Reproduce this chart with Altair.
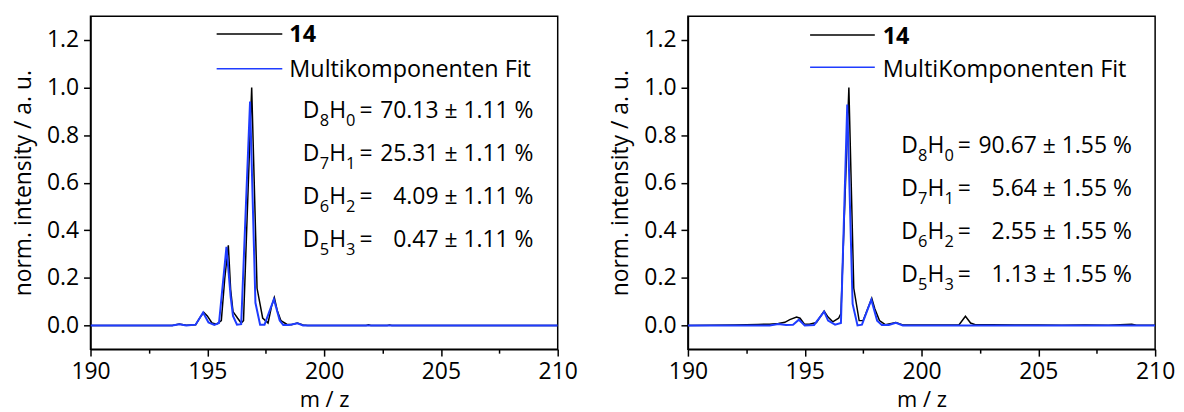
import altair as alt
import pandas as pd

# ---------------- data ----------------
left_meas_mz = [190.0, 193.5, 193.8, 194.1, 194.5, 194.7, 194.85, 195.0, 195.2, 195.4, 195.6, 195.75,
                195.9, 196.0, 196.1, 196.3, 196.45, 196.55, 196.9, 197.13, 197.37, 197.6, 197.75,
                197.87, 198.0, 198.15, 198.4, 198.6, 198.85, 199.1, 199.3, 201.8, 201.9, 202.0,
                202.7, 202.8, 202.9, 210.0]
left_meas_int = [0.0, 0.0, 0.006, 0.001, 0.003, 0.035, 0.055, 0.04, 0.01, 0.005, 0.02, 0.2,
                 0.337, 0.15, 0.058, 0.03, 0.01, 0.02, 1.0, 0.156, 0.031, 0.01, 0.08,
                 0.117, 0.06, 0.02, 0.005, 0.003, 0.01, 0.002, 0.0, 0.0, 0.003, 0.0,
                 0.0, 0.002, 0.0, 0.0]
left_fit_mz = [190.0, 193.5, 193.8, 194.1, 194.5, 194.82, 195.05, 195.3, 195.5, 195.82, 196.0, 196.1,
               196.27, 196.45, 196.83, 197.06, 197.26, 197.45, 197.85, 198.1, 198.25, 198.5, 198.86,
               199.1, 210.0]
left_fit_int = [0.0, 0.0, 0.005, 0.0, 0.003, 0.054, 0.012, 0.002, 0.01, 0.33, 0.12, 0.04,
                0.003, 0.005, 0.941, 0.095, 0.003, 0.003, 0.11, 0.02, 0.002, 0.002, 0.009,
                0.0, 0.0]

right_meas_mz = [190.0, 191.0, 192.0, 193.0, 193.5, 193.87, 194.15, 194.36, 194.65, 194.8, 194.98,
                 195.2, 195.5, 195.83, 196.0, 196.2, 196.45, 196.55, 196.89, 197.1, 197.33, 197.5,
                 197.87, 198.0, 198.2, 198.45, 198.9, 199.2, 200.0, 201.0, 201.6, 201.88, 202.1,
                 202.3, 203.0, 204.0, 205.0, 206.0, 207.0, 208.0, 209.0, 209.2, 210.0]
right_meas_int = [0.0, 0.001, 0.002, 0.004, 0.005, 0.008, 0.013, 0.024, 0.035, 0.03, 0.006,
                  0.005, 0.012, 0.06, 0.035, 0.015, 0.03, 0.05, 1.0, 0.156, 0.02, 0.02,
                  0.114, 0.07, 0.02, 0.003, 0.012, 0.002, 0.002, 0.002, 0.002, 0.038, 0.01,
                  0.003, 0.003, 0.002, 0.002, 0.001, 0.002, 0.001, 0.005, 0.001, 0.001]
right_fit_mz = [190.0, 193.5, 193.87, 194.2, 194.5, 194.75, 195.0, 195.4, 195.83, 196.0, 196.3,
                196.55, 196.82, 197.05, 197.26, 197.45, 197.85, 198.1, 198.3, 198.6, 198.9, 199.2,
                210.0]
right_fit_int = [0.0, 0.0, 0.006, 0.002, 0.003, 0.024, 0.0, 0.002, 0.058, 0.02, 0.003,
                 0.01, 0.928, 0.09, 0.0, 0.003, 0.108, 0.02, 0.002, 0.002, 0.011, 0.0,
                 0.0]

legend_labels_left = ["14", "Multikomponenten Fit"]
legend_labels_right = ["14", "MultiKomponenten Fit"]

species_d = ["8", "7", "6", "5"]
species_h = ["0", "1", "2", "3"]
left_values = ["70.13 ± 1.11 %", "25.31 ± 1.11 %", "4.09 ± 1.11 %", "0.47 ± 1.11 %"]
right_values = ["90.67 ± 1.55 %", "5.64 ± 1.55 %", "2.55 ± 1.55 %", "1.13 ± 1.55 %"]

x_ticks = [190, 192.5, 195, 197.5, 200, 202.5, 205, 207.5, 210]
y_ticks = [0.0, 0.1, 0.2, 0.3, 0.4, 0.5, 0.6, 0.7, 0.8, 0.9, 1.0, 1.1, 1.2]

FONT = "Open Sans"
FS = 23
LFS = 23.5
SUB = 16.5
BLUE = "#1f3cff"
W, H = 470, 335


def panel(mx, my, fx, fy, leg_labels, leg_x0, leg_x1, leg_tx, leg_y, leg_ty,
          ann_x, ann_y, values):
    xs = alt.Scale(domain=[190, 210], nice=False, zero=False)
    ys = alt.Scale(domain=[-0.1, 1.3], nice=False, zero=False)
    xax = alt.Axis(values=x_ticks, labelExpr="datum.value % 5 === 0 ? format(datum.value, 'd') : ''",
                   tickSize={"condition": {"test": "datum.value % 5 === 0", "value": 7}, "value": 4},
                   labelFlush=False, labelOverlap=False, title="m / z", grid=False)
    yax = alt.Axis(values=y_ticks,
                   labelExpr="abs(round(datum.value*10)) % 2 === 0 ? format(datum.value, '.1f') : ''",
                   tickSize={"condition": {"test": "abs(round(datum.value*10)) % 2 === 0", "value": 7}, "value": 4},
                   labelOverlap=False, title="norm. intensity / a. u.", grid=False)

    meas = pd.DataFrame({"mz": mx, "intensity": my})
    fit = pd.DataFrame({"mz": fx, "intensity": fy})

    base_m = alt.Chart(meas).mark_line(color="black", strokeWidth=1.5, clip=True).encode(
        x=alt.X("mz:Q", scale=xs, axis=xax),
        y=alt.Y("intensity:Q", scale=ys, axis=yax),
        order="mz:Q",
    )
    base_f = alt.Chart(fit).mark_line(color=BLUE, strokeWidth=2, clip=True).encode(
        x=alt.X("mz:Q", scale=xs), y=alt.Y("intensity:Q", scale=ys), order="mz:Q")

    leg = pd.DataFrame({"x0": [leg_x0, leg_x0], "x1": [leg_x1, leg_x1], "tx": [leg_tx, leg_tx],
                        "y": leg_y, "ty": leg_ty, "label": leg_labels, "c": ["black", BLUE]})
    leg_rule = alt.Chart(leg).mark_rule(strokeWidth=1.6).encode(
        x=alt.X("x0:Q", scale=xs), x2="x1:Q", y=alt.Y("y:Q", scale=ys),
        color=alt.Color("c:N", scale=None))
    leg_t1 = alt.Chart(leg.iloc[[0]]).mark_text(align="left", baseline="middle", font=FONT,
                                                fontSize=LFS, fontWeight="bold", color="black").encode(
        x=alt.X("tx:Q", scale=xs), y=alt.Y("ty:Q", scale=ys), text="label:N")
    leg_t2 = alt.Chart(leg.iloc[[1]]).mark_text(align="left", baseline="middle", font=FONT,
                                                fontSize=LFS, color="black").encode(
        x=alt.X("tx:Q", scale=xs), y=alt.Y("ty:Q", scale=ys), text="label:N")

    ann = pd.DataFrame({"x": [ann_x] * 4, "y": ann_y, "d": species_d, "h": species_h, "v": values})
    enc = dict(x=alt.X("x:Q", scale=xs), y=alt.Y("y:Q", scale=ys))
    common = dict(baseline="alphabetic", font=FONT, color="black")
    t_d = alt.Chart(ann).mark_text(align="left", fontSize=FS, text="D", dx=0, **common).encode(**enc)
    t_ds = alt.Chart(ann).mark_text(align="left", fontSize=SUB, dx=17, dy=8, **common).encode(text="d:N", **enc)
    t_h = alt.Chart(ann).mark_text(align="left", fontSize=FS, text="H", dx=26.5, **common).encode(**enc)
    t_hs = alt.Chart(ann).mark_text(align="left", fontSize=SUB, dx=43.5, dy=8, **common).encode(text="h:N", **enc)
    t_eq = alt.Chart(ann).mark_text(align="left", fontSize=FS, text="=", dx=57, **common).encode(**enc)
    t_v = alt.Chart(ann).mark_text(align="right", fontSize=FS, dx=232, **common).encode(text="v:N", **enc)

    return alt.layer(base_m, base_f, leg_rule, leg_t1, leg_t2, t_d, t_ds, t_h, t_hs, t_eq, t_v).properties(
        width=W, height=H)


left = panel(left_meas_mz, left_meas_int, left_fit_mz, left_fit_int, legend_labels_left,
             195.40, 198.21, 198.51, [1.225, 1.079], [1.221, 1.075],
             199.09, [0.872, 0.691, 0.512, 0.328], left_values)
right = panel(right_meas_mz, right_meas_int, right_fit_mz, right_fit_int, legend_labels_right,
              195.23, 198.0, 198.34, [1.221, 1.085], [1.2125, 1.0717],
              199.13, [0.726, 0.545, 0.3645, 0.1835], right_values)

chart = alt.hconcat(left, right, spacing=30).properties(
    padding={"left": 3, "top": 6, "right": 0, "bottom": 0}
).configure_view(
    stroke="black", strokeWidth=1.5
).configure_axis(
    labelFont=FONT, labelFontSize=FS, labelColor="black",
    titleFont=FONT, titleFontSize=FS, titleFontWeight="normal", titleColor="black",
    domainColor="black", domainWidth=1.5, tickColor="black", tickWidth=1.5,
).configure_axisX(labelPadding=5, titlePadding=6, titleFontSize=22).configure_axisY(labelPadding=5, titlePadding=11)

chart.save("out.html", embed_options={"renderer": "svg", "actions": False})
